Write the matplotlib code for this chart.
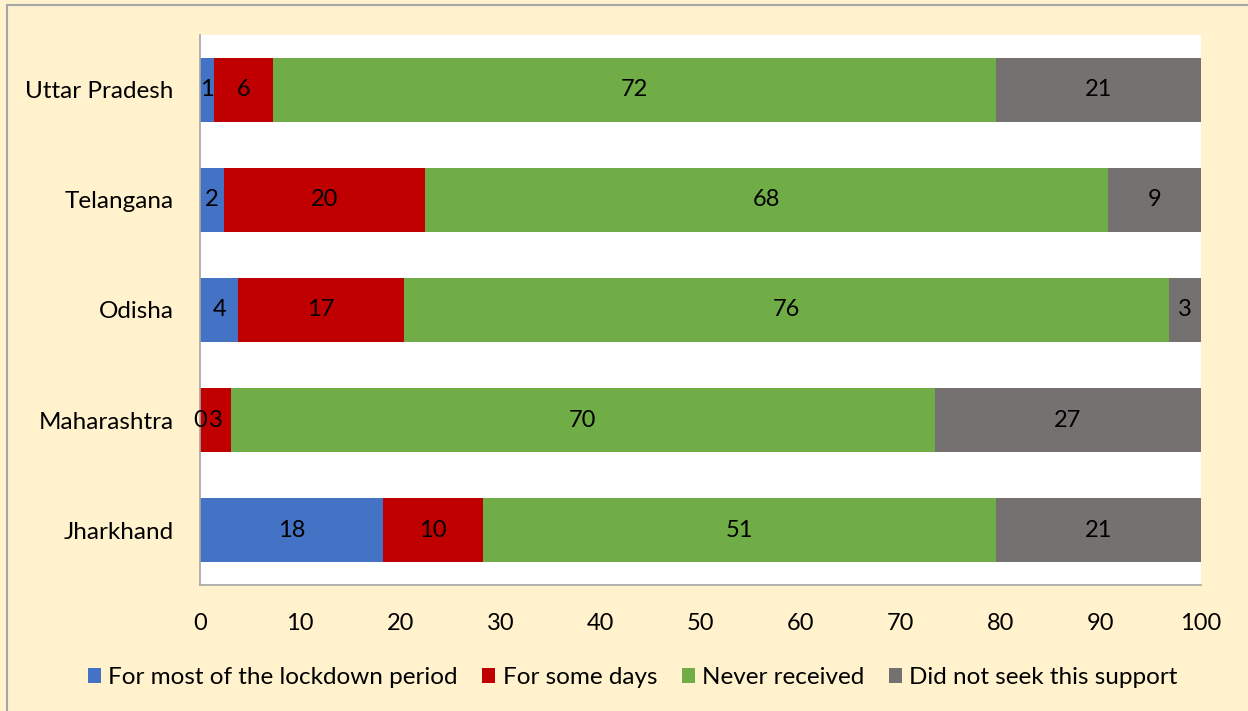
import matplotlib.pyplot as plt
from matplotlib.patches import Rectangle

plt.rcParams['font.family'] = ['Lato', 'DejaVu Sans']

states = ["Jharkhand", "Maharashtra", "Odisha", "Telangana", "Uttar Pradesh"]
most_period = [18.3, 0.0, 3.8, 2.4, 1.4]
some_days = [10.0, 3.1, 16.6, 20.1, 5.9]
never_received = [51.2, 70.3, 76.4, 68.2, 72.2]
did_not_seek = [20.6, 26.6, 3.2, 9.3, 20.6]

series = [
    ("For most of the lockdown period", most_period, "#4472C4"),
    ("For some days", some_days, "#C00000"),
    ("Never received", never_received, "#70AD47"),
    ("Did not seek this support", did_not_seek, "#767171"),
]

fig = plt.figure(figsize=(12.48, 7.11), dpi=100)
fig.patch.set_facecolor("#FFF2CC")
fig.patches.append(Rectangle((0.0056, -0.01), 1.1, 1.003, transform=fig.transFigure,
                             fill=False, edgecolor="#A6A6A6", linewidth=1.5))

ax = fig.add_axes([0.1603, 0.1772, 0.8020, 0.7736])
ax.set_facecolor("white")

left = [0.0] * len(states)
for name, vals, color in series:
    bars = ax.barh(range(len(states)), vals, left=left, height=0.58, color=color, label=name)
    for i, v in enumerate(vals):
        cx = left[i] + v / 2
        ax.text(cx, i, f"{v:.0f}", ha="center", va="center", fontsize=17, color="black")
    left = [l + v for l, v in zip(left, vals)]

ax.set_xlim(0, 100)
ax.set_ylim(-0.5, 4.5)
ax.set_xticks(range(0, 101, 10))
ax.set_yticks(range(len(states)))
ax.set_yticklabels(states)
ax.tick_params(axis="both", length=0)
ax.tick_params(axis="x", pad=20, labelsize=17)
ax.tick_params(axis="y", pad=19, labelsize=17.5)
for s in ["top", "right"]:
    ax.spines[s].set_visible(False)
for s in ["left", "bottom"]:
    ax.spines[s].set_color("#A6A6A6")
    ax.spines[s].set_linewidth(1.2)

ax.legend(loc="center", bbox_to_anchor=(0.507, 0.047), bbox_transform=fig.transFigure,
          ncol=4, frameon=False, fontsize=17.5, handlelength=0.55, handleheight=0.55,
          handletextpad=0.3, columnspacing=1.0)

fig.savefig("out.png", dpi=100, facecolor=fig.get_facecolor())
